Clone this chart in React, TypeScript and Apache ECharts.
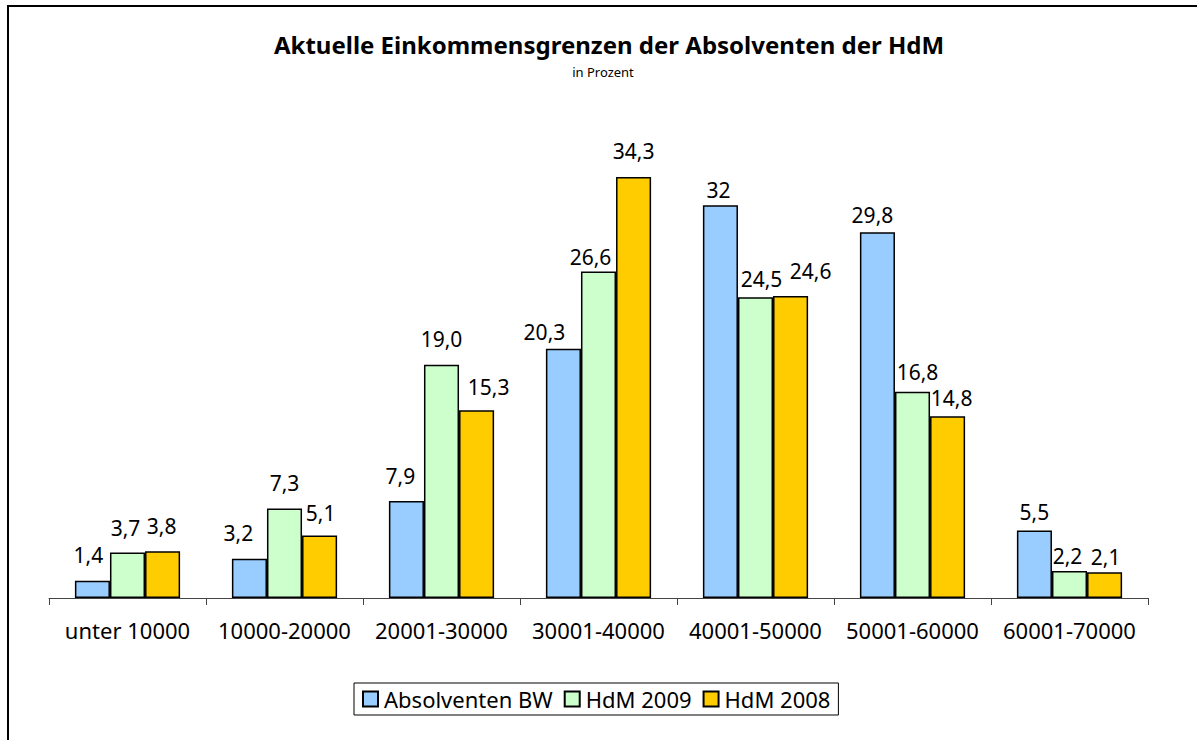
import React, { useEffect, useRef } from "react";
import * as echarts from "echarts";

const categories = [
  "unter 10000",
  "10000-20000",
  "20001-30000",
  "30001-40000",
  "40001-50000",
  "50001-60000",
  "60001-70000",
];
const absolventenBW = [1.4, 3.2, 7.9, 20.3, 32, 29.8, 5.5];
const hdm2009 = [3.7, 7.3, 19.0, 26.6, 24.5, 16.8, 2.2];
const hdm2008 = [3.8, 5.1, 15.3, 34.3, 24.6, 14.8, 2.1];
const seriesNames = ["Absolventen BW", "HdM 2009", "HdM 2008"];
const seriesColors = ["#99CCFF", "#CCFFCC", "#FFCC00"];
const seriesDecimals = [-1, 1, 1];

// label nudges [dx, dy] per series, per category (Excel's label placement)
const labelNudges = [
  [[-4, 0], [-11, 0], [-6, 0], [-19, 9], [-2, 10], [-5, 8], [0, 7]],
  [[-2, 1], [0, 0], [0, 0], [-8, 11], [6, 7], [5, 6], [-2, 11]],
  [[-1, 0], [1, 3], [12, 2], [0, 0], [20, 0], [4, 7], [1, 10]],
];

const FONT = "'Noto Sans', 'DejaVu Sans', sans-serif";

export default function App() {
  const ref = useRef<HTMLDivElement>(null);
  useEffect(() => {
    if (!ref.current) return;
    const chart = echarts.init(ref.current, null, { renderer: "svg" });
    const allData = [absolventenBW, hdm2009, hdm2008];
    const series = allData.map((vals, si) => ({
      name: seriesNames[si],
      type: "bar",
      barGap: "0%",
      barCategoryGap: "33%",
      itemStyle: { color: seriesColors[si], borderColor: "#000", borderWidth: 1.5 },
      label: {
        show: true,
        position: "top",
        distance: 15,
        color: "#000",
        fontFamily: FONT,
        fontSize: 21,
        formatter: (p: any) =>
          seriesDecimals[si] < 0
            ? String(p.value).replace(".", ",")
            : Number(p.value).toFixed(seriesDecimals[si]).replace(".", ","),
      },
      data: vals.map((v, ci) => ({
        value: v,
        label: { offset: labelNudges[si][ci] },
      })),
    }));
    chart.setOption({
      animation: false,
      backgroundColor: "#fff",
      title: [
        {
          text: "Aktuelle Einkommensgrenzen der Absolventen der HdM",
          left: 604,
          top: 27,
          textAlign: "center",
          textStyle: { fontFamily: FONT, fontWeight: "bold", fontSize: 24, color: "#000" },
        },
        {
          text: "in Prozent",
          left: 598,
          top: 60,
          textAlign: "center",
          textStyle: { fontFamily: FONT, fontWeight: "normal", fontSize: 13, color: "#000" },
        },
      ],
      legend: {
        left: 354,
        top: 683,
        orient: "horizontal",
        icon: "rect",
        itemWidth: 15,
        itemHeight: 15,
        itemGap: 11,
        padding: [5, 8, 5, 8],
        borderColor: "#000",
        borderWidth: 1,
        textStyle: { fontFamily: FONT, fontSize: 22, color: "#000", padding: [0, 0, 0, 1] },
        data: seriesNames,
      },
      grid: { left: 49, right: 49, top: 107, bottom: 142, containLabel: false },
      xAxis: {
        type: "category",
        data: categories,
        axisLine: { lineStyle: { color: "#444", width: 1 } },
        axisTick: { show: true, length: 7, lineStyle: { color: "#444" } },
        axisLabel: { fontFamily: FONT, fontSize: 22, color: "#000", margin: 21, interval: 0 },
      },
      yAxis: {
        type: "value",
        min: 0,
        max: 40,
        show: false,
        splitLine: { show: false },
      },
      graphic: [
        {
          type: "rect",
          shape: { x: 8, y: 6, width: 1400, height: 900 },
          style: { fill: "none", stroke: "#000", lineWidth: 2 },
          silent: true,
        },
      ],
      series,
    });
    return () => chart.dispose();
  }, []);
  return (
    <div
      ref={ref}
      style={{ position: "fixed", left: 0, top: 0, width: 1197, height: 740, overflow: "hidden" }}
    />
  );
}
